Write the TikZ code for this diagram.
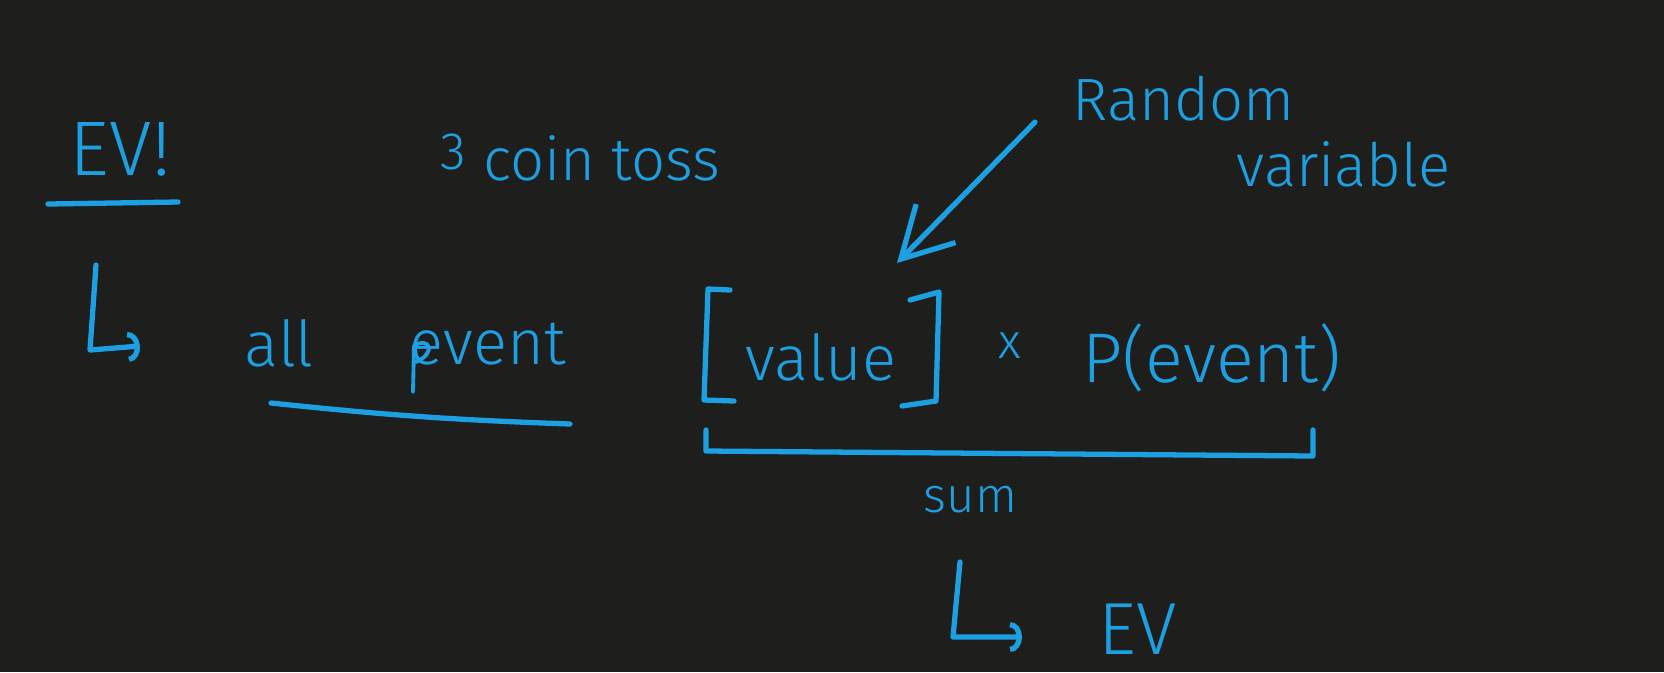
\documentclass[tikz,border=0pt]{standalone}
\usepackage{fontspec}
\setmainfont{Fira Sans}[UprightFont={* Light}]
\usetikzlibrary{arrows.meta, positioning, calc}
\definecolor{board}{RGB}{30,31,29}
\definecolor{ink}{RGB}{28,160,226}

\begin{document}
\begin{tikzpicture}[x=0.01cm, y=-0.01cm,
        hand/.style={text=ink, inner sep=0pt, font=\fontsize{18}{20}\selectfont},
        big/.style={hand, font=\fontsize{22}{24}\selectfont},
        small/.style={hand, font=\fontsize{14}{16}\selectfont},
        stroke/.style={draw=ink, line width=1.5pt, line cap=round, line join=round},
        hook/.style={stroke, -{Arc Barb[length=1.2mm, width=3mm]}},
        pointer/.style={stroke, -{Straight Barb[length=5mm, width=5.5mm]}}
    ]
        \fill[board] (0,0) rectangle (1664,672);

        % heading
        \node[big, anchor=base west] (ev) at (69,175) {EV!};
        \draw[stroke] (48,204) -- (178,202);
        \node[hand, font=\fontsize{17}{19}\selectfont, anchor=base west] (toss) at (440,180)
            {{\fontsize{15}{17}\selectfont\raisebox{3pt}{3}}\ coin toss};

        % label
        \node[hand, font=\fontsize{17}{19}\selectfont, anchor=base west] (rand) at (1072,120) {Random};
        \node[hand, font=\fontsize{17}{19}\selectfont, anchor=base west] (var) at (1236,186) {variable};

        % formula row
        \coordinate (hk1) at (96,265);
        \coordinate (hk1end) at (140,346);
        \draw[hook] (hk1) -- (90,350) -- (hk1end);
        \node[hand, anchor=base west] (all) at (244,366) {all};
        \node[hand, anchor=base west] (event) at (409,364) {event};
        \draw[stroke, line width=1.1pt] (413,392) -- (414,346) .. controls (428,336) and (438,352) .. (416,362);
        \draw[stroke] (271,403) to[bend right=2] (570,424);

        \node[hand, anchor=base west] (val) at (745,380) {value};
        \draw[stroke] (730,290) -- (708,289) -- (704,400) -- (734,401);
        \draw[stroke] (910,300) -- (939,292) -- (936,401) -- (902,406);
        \node[small, anchor=base] (times) at (1010,358) {x};
        \node[hand, font=\fontsize{20}{22}\selectfont, anchor=base west] (prob) at (1082,382) {P(event)};

        \coordinate (rvtip) at (897,263);
        \draw[pointer] ($(rand.west)+(-37,24)$) -- (rvtip);

        % sum
        \draw[stroke] (706,430) -- (706,451) -- (1313,456) -- (1313,430);
        \node[small, anchor=base west] (sum) at (923,512) {sum};

        \coordinate (hk2) at (960,562);
        \coordinate (hk2end) at (1022,637);
        \draw[hook] (hk2) -- (953,637) -- (hk2end);
        \node[big, font=\fontsize{21}{23}\selectfont, anchor=base west] (res) at (1098,654) {EV};
    \end{tikzpicture}
\end{document}
